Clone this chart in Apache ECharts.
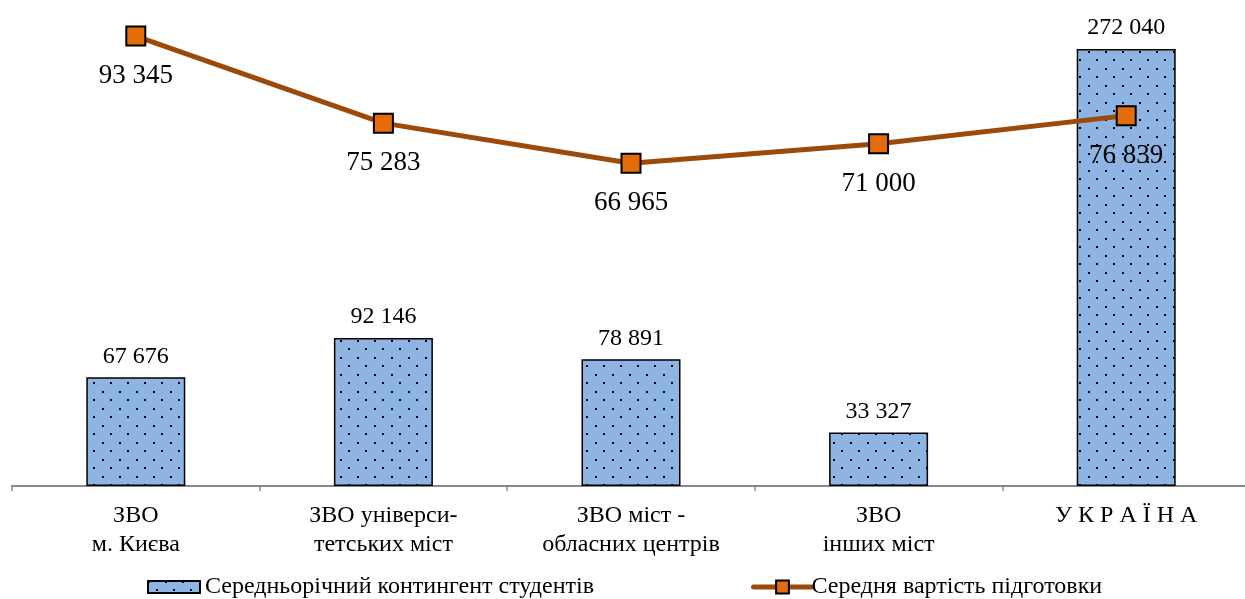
<!DOCTYPE html>
<html><head><meta charset="utf-8">
<script src="https://cdn.jsdelivr.net/npm/echarts@6/dist/echarts.min.js"></script>
<style>html,body{margin:0;padding:0;background:#fff;overflow:hidden;width:1245px;height:599px}#c{width:1252px;height:599px}</style>
</head><body><div id="c"></div>
<script>
const categories = ['ЗВО\nм. Києва', 'ЗВО універси-\nтетських міст', 'ЗВО міст -\nобласних центрів', 'ЗВО\nінших міст', 'У К Р А Ї Н А'];
const contingent = [67676, 92146, 78891, 33327, 272040];
const cost = [93345, 75283, 66965, 71000, 76839];
const seriesNames = ['Середньорічний контингент студентів', 'Середня вартість підготовки'];

function fmt(v){ return String(v).replace(/\B(?=(\d{3})+(?!\d))/g, ' '); }

const tile = document.createElement('canvas');
tile.width = 17; tile.height = 17;
const tc = tile.getContext('2d');
tc.fillStyle = '#8DB4E2'; tc.fillRect(0,0,17,17);
tc.fillStyle = '#000';
tc.fillRect(0,0,2,2);
tc.fillRect(8,8,2,2);

const font = 'Liberation Serif';
const chart = echarts.init(document.getElementById('c'), null, {renderer:'canvas'});
chart.setOption({
  animation:false,
  grid:{left:12, right:2, top:4, bottom:113, containLabel:false},
  legend:[
    {data:[{name:seriesNames[0], icon:'rect'}], left:142, top:570, itemWidth:52, itemHeight:12,
     textStyle:{fontFamily:font, fontSize:24, color:'#000', padding:[0,0,0,0]}},
    {data:[seriesNames[1]], left:746, top:570, itemWidth:58, itemHeight:16,
     lineStyle:{width:5, cap:'round'},
     textStyle:{fontFamily:font, fontSize:24, color:'#000', padding:[0,0,0,-5]}}
  ],
  xAxis:{type:'category', data:categories, boundaryGap:true,
    axisLine:{lineStyle:{color:'#898989', width:2}},
    axisTick:{show:true, length:5, lineStyle:{color:'#898989', width:1.5}},
    axisLabel:{fontFamily:font, fontSize:24, color:'#000', margin:15, lineHeight:29}},
  yAxis:[
    {type:'value', min:0, max:300000, show:false},
    {type:'value', min:0, max:100000, show:false}
  ],
  series:[
    {name:seriesNames[0], type:'bar', data:contingent, yAxisIndex:0, barWidth:99,
     itemStyle:{color:{image:tile, repeat:'repeat'}, borderColor:'#000', borderWidth:1.5},
     label:{show:true, position:'top', distance:9, fontFamily:font, fontSize:24, color:'#000',
       formatter:p=>fmt(p.value)}},
    {name:seriesNames[1], type:'line', data:cost, yAxisIndex:1, z:5,
     lineStyle:{color:'#9C4A0A', width:5},
     symbol:'rect', symbolSize:19,
     itemStyle:{color:'#E46C0A', borderColor:'#000', borderWidth:2},
     label:{show:true, position:'bottom', distance:16, fontFamily:font, fontSize:27, color:'#000',
       formatter:p=>fmt(p.value)}}
  ]
});
</script></body></html>
